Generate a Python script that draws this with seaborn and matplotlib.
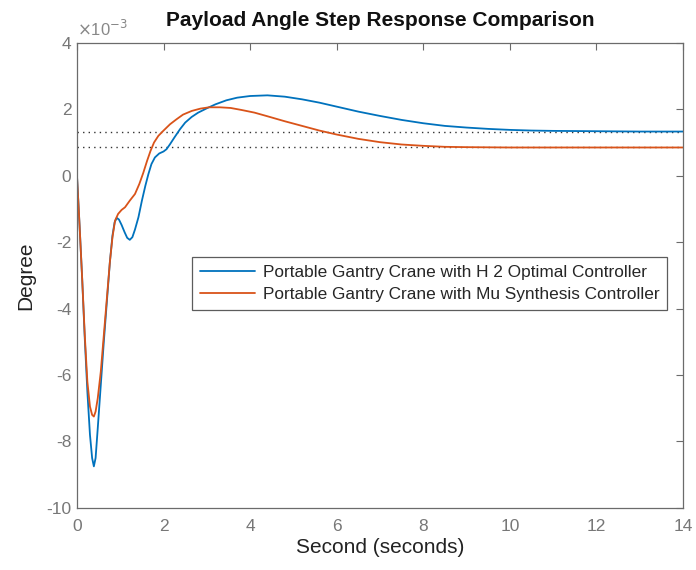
import numpy as np
import pandas as pd
import matplotlib
matplotlib.use("Agg")
import matplotlib.pyplot as plt
import seaborn as sns

# step response, values in units of 1e-3 degree
t_h2 = [0, 0.06, 0.12, 0.18, 0.24, 0.3, 0.35, 0.39, 0.43, 0.48, 0.55, 0.62, 0.69, 0.76,
        0.82, 0.87, 0.92, 0.97, 1.03, 1.1, 1.16, 1.22, 1.28, 1.34, 1.42, 1.5, 1.58, 1.65,
        1.72, 1.8, 1.9, 2.0, 2.07, 2.15, 2.25, 2.38, 2.5, 2.65, 2.8, 3.0, 3.2, 3.45,
        3.7, 4.0, 4.4, 4.8, 5.2, 5.6, 6.0, 6.5, 7.0, 7.5, 8.0, 8.5, 9.0, 9.5, 10,
        10.5, 11, 12, 13, 14]
y_h2 = [0, -1.5, -3.1, -4.9, -6.5, -7.8, -8.5, -8.75, -8.5, -7.6, -6.3, -5.0, -3.8, -2.6,
        -1.8, -1.4, -1.27, -1.32, -1.48, -1.7, -1.87, -1.93, -1.85, -1.62, -1.25, -0.75, -0.3, 0.05,
        0.35, 0.55, 0.67, 0.73, 0.8, 0.95, 1.15, 1.4, 1.6, 1.77, 1.9, 2.03, 2.15, 2.27,
        2.35, 2.4, 2.42, 2.38, 2.3, 2.2, 2.08, 1.93, 1.8, 1.68, 1.58, 1.5, 1.45, 1.41, 1.38,
        1.36, 1.35, 1.34, 1.33, 1.33]

t_mu = [0, 0.06, 0.12, 0.18, 0.24, 0.3, 0.35, 0.39, 0.43, 0.48, 0.55, 0.62, 0.69, 0.76,
        0.82, 0.88, 0.95, 1.03, 1.11, 1.22, 1.34, 1.44, 1.53, 1.62, 1.7, 1.78, 1.88, 2.0,
        2.15, 2.3, 2.45, 2.65, 2.85, 3.05, 3.3, 3.55, 3.8, 4.1, 4.4, 4.8, 5.2, 5.6,
        6.0, 6.5, 7.0, 7.5, 8.0, 8.5, 9.0, 10, 11, 12, 13, 14]
y_mu = [0, -1.5, -3.1, -4.8, -6.2, -6.95, -7.2, -7.25, -7.1, -6.7, -5.9, -4.8, -3.7, -2.6,
        -1.85, -1.35, -1.15, -1.03, -0.95, -0.75, -0.55, -0.25, 0.08, 0.45, 0.75, 1.0, 1.2, 1.36,
        1.55, 1.7, 1.84, 1.95, 2.02, 2.06, 2.06, 2.04, 1.98, 1.9, 1.79, 1.64, 1.5, 1.36,
        1.24, 1.11, 1.01, 0.94, 0.9, 0.87, 0.86, 0.85, 0.85, 0.85, 0.85, 0.85]

final_h2 = 1.33
final_mu = 0.85

labels = ["Portable Gantry Crane with H 2 Optimal Controller",
          "Portable Gantry Crane with Mu Synthesis Controller"]
colors = ["#0072BD", "#D95319"]

df = pd.concat([
    pd.DataFrame({"t": t_h2, "y": y_h2, "ctrl": labels[0]}),
    pd.DataFrame({"t": t_mu, "y": y_mu, "ctrl": labels[1]}),
])

sns.set_style("white")
plt.rcParams["font.family"] = ["Liberation Sans", "DejaVu Sans"]
plt.rcParams["axes.unicode_minus"] = False

fig = plt.figure(figsize=(6.96, 5.70), dpi=100)
ax = fig.add_axes([0.1106, 0.109, 0.8707, 0.8158])

sns.lineplot(data=df, x="t", y="y", hue="ctrl", palette=colors, linewidth=1.3,
             sort=False, estimator=None, ax=ax)

ax.axhline(final_h2, color="#333333", linestyle=(0, (1, 3)), linewidth=1.0, zorder=1)
ax.axhline(final_mu, color="#333333", linestyle=(0, (1, 3)), linewidth=1.0, zorder=1)

ax.set_xlim(0, 14)
ax.set_ylim(-10, 4)
ax.set_xticks(np.arange(0, 15, 2))
ax.set_yticks(np.arange(-10, 5, 2))

axcol = "#6b6b6b"
for s in ax.spines.values():
    s.set_color(axcol)
    s.set_linewidth(0.9)
ax.tick_params(direction="in", length=5, width=0.8, colors=axcol, labelcolor="#777777",
               labelsize=12.5, top=True, right=True)
ax.tick_params(axis="x", pad=8)
ax.tick_params(axis="y", pad=4)

ax.set_xlabel("Second (seconds)", fontsize=15, color="#222222", labelpad=3)
ax.set_ylabel("Degree", fontsize=15, color="#222222", labelpad=8)
ax.set_title("Payload Angle Step Response Comparison", fontsize=15, fontweight="bold",
             color="#111111", pad=12)
ax.text(0.0, 1.008, r"$\times$10$^{-3}$", transform=ax.transAxes, fontsize=12,
        color="#888888", ha="left", va="bottom")

handles, _ = ax.get_legend_handles_labels()
leg = ax.legend(handles, labels, loc="upper right", bbox_to_anchor=(0.974, 0.54),
                fontsize=12.4, frameon=True, fancybox=False, handlelength=3.2,
                borderpad=0.45, labelspacing=0.45, handletextpad=0.45, borderaxespad=0)
leg.get_frame().set_edgecolor("#333333")
leg.get_frame().set_linewidth(0.9)

fig.savefig("out.png", dpi=100)
